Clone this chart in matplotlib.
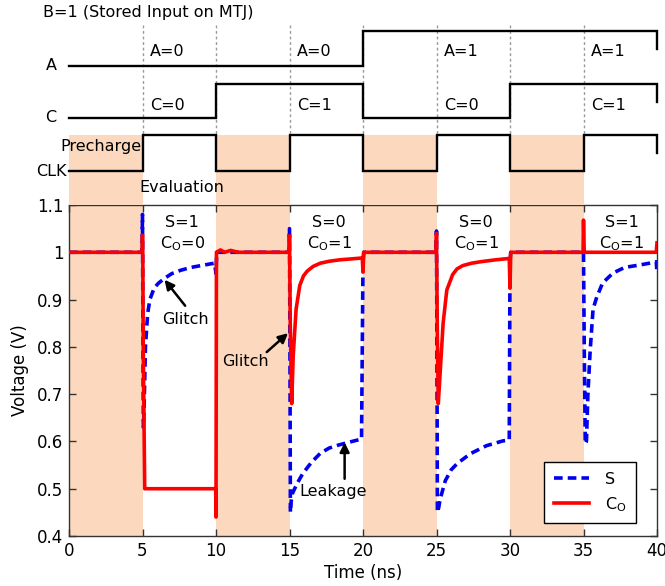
import matplotlib
matplotlib.use("Agg")
import matplotlib.pyplot as plt

# ---------------- data ----------------
seg_edges = [0, 5, 10, 15, 20, 25, 30, 35, 40]
A_levels = [0, 0, 0, 0, 1, 1, 1, 1]
C_levels = [0, 0, 1, 1, 0, 0, 1, 1]
CLK_levels = [0, 1, 0, 1, 0, 1, 0, 1]
A_labels = ["A=0", "A=0", "A=1", "A=1"]
C_labels = ["C=0", "C=1", "C=0", "C=1"]
label_starts = [5, 15, 25, 35]
precharge = [(0, 5), (10, 15), (20, 25), (30, 35)]
SC_labels = [("S=1", "0"), ("S=0", "1"), ("S=0", "1"), ("S=1", "1")]

S_t = [0, 4.97, 5.0, 5.02, 5.06, 5.1, 5.2, 5.35, 5.5, 5.8, 6.1, 6.5, 7.0, 7.6, 8.3, 9.0, 9.9,
       10.0, 10.05, 14.97, 15.0, 15.03, 15.06, 15.1, 15.2, 15.5, 15.9, 16.5, 17.1, 17.7, 18.3,
       19.0, 19.9, 20.0, 20.05, 24.97, 25.0, 25.03, 25.06, 25.15, 25.25, 25.6, 26.0, 26.4,
       27.3, 28.4, 29.5, 29.95, 30.0, 30.05, 34.97, 35.0, 35.05, 35.12, 35.2, 35.3, 35.45,
       35.65, 35.9, 36.3, 37.0, 37.8, 38.8, 39.5, 39.95, 40.0]
S_v = [1.0, 1.0, 1.08, 0.9, 0.63, 0.66, 0.8, 0.87, 0.9, 0.925, 0.935, 0.945, 0.955, 0.962,
       0.968, 0.972, 0.977, 0.955, 1.0, 1.0, 1.05, 0.8, 0.45, 0.47, 0.49, 0.51, 0.532, 0.556,
       0.575, 0.586, 0.592, 0.598, 0.605, 0.98, 1.0, 1.0, 1.045, 0.8, 0.45, 0.46, 0.478, 0.517,
       0.54, 0.553, 0.574, 0.591, 0.601, 0.603, 0.98, 1.0, 1.0, 1.0, 0.8, 0.595, 0.6, 0.7,
       0.79, 0.88, 0.905, 0.935, 0.956, 0.968, 0.973, 0.977, 0.98, 0.955]

Co_t = [0, 4.97, 5.0, 5.02, 5.05, 5.15, 9.98, 10.0, 10.03, 10.3, 10.6, 11.0, 11.5, 14.97, 15.0,
        15.05, 15.15, 15.25, 15.45, 15.7, 15.95, 16.2, 16.6, 17.1, 17.7, 18.4, 19.2, 19.95,
        20.0, 20.05, 24.97, 25.0, 25.05, 25.12, 25.2, 25.45, 25.7, 26.1, 26.4, 26.8, 27.4,
        28.0, 29.0, 29.95, 30.0, 30.05, 34.97, 35.0, 35.05, 39.95, 40.0]
Co_v = [1.0, 1.0, 1.036, 1.0, 0.8, 0.5, 0.5, 0.44, 1.0, 1.005, 1.0, 1.004, 1.0, 1.0, 1.035,
        0.85, 0.68, 0.78, 0.88, 0.93, 0.95, 0.96, 0.97, 0.977, 0.981, 0.984, 0.986, 0.988,
        0.958, 1.0, 1.0, 1.04, 0.85, 0.68, 0.72, 0.85, 0.92, 0.953, 0.965, 0.972, 0.977,
        0.98, 0.984, 0.987, 0.924, 1.0, 1.0, 1.068, 1.0, 1.0, 1.02]

x_ticks = [0, 5, 10, 15, 20, 25, 30, 35, 40]
y_ticks = [0.4, 0.5, 0.6, 0.7, 0.8, 0.9, 1.0, 1.1]
y_ticklabels = ["0.4", "0.5", "0.6", "0.7", "0.8", "0.9", "1", "1.1"]

# ---------------- style ----------------
W, H = 665, 586
SHADE = "#FCD9BE"
plt.rcParams["font.family"] = ["DejaVu Sans"]
fig = plt.figure(figsize=(W / 100, H / 100), dpi=100)

left, right = 69 / W, 657 / W
ax_top_px, ax_bot_px = 205, 536
ax = fig.add_axes([left, 1 - ax_bot_px / H, right - left, (ax_bot_px - ax_top_px) / H])
axt = fig.add_axes([left, 1 - ax_top_px / H, right - left, ax_top_px / H])

# ---- timing diagram (top) ----
axt.set_xlim(0, 40)
axt.set_ylim(ax_top_px, 0)  # pixel-like units
axt.axis("off")

def wave(levels, base, amp):
    xs, ys = [], []
    for i, lv in enumerate(levels):
        y = base - amp * lv
        xs += [seg_edges[i], seg_edges[i + 1]]
        ys += [y, y]
    # small end tick at the right edge
    xs.append(seg_edges[-1])
    ys.append(ys[-1] + 18)
    return xs, ys

for levels, base, amp in [(A_levels, 65.5, 35), (C_levels, 117.5, 34), (CLK_levels, 171, 36)]:
    xs, ys = wave(levels, base, amp)
    axt.plot(xs, ys, color="black", lw=1.7, solid_joinstyle="miter", clip_on=False)

for a, b in precharge:
    axt.axvspan(a, b, ymin=0, ymax=(ax_top_px - 135) / ax_top_px, color=SHADE, lw=0, zorder=0)

for xv in seg_edges[1:-1]:
    axt.plot([xv, xv], [25, 135], color="#999999", lw=1.0, ls=(0, (2, 2)), zorder=0.5)

fs = 11.5
axt.text(5.4, 13, "B=1 (Stored Input on MTJ)", ha="center", va="center", fontsize=fs)
axt.text(-1.2, 66, "A", ha="center", va="center", fontsize=fs, clip_on=False)
axt.text(-1.25, 118, "C", ha="center", va="center", fontsize=fs, clip_on=False)
axt.text(-0.15, 171, "CLK", ha="right", va="center", fontsize=fs, clip_on=False)
axt.text(2.14, 147, "Precharge", ha="center", va="center", fontsize=fs, clip_on=False)
axt.text(7.65, 188, "Evaluation", ha="center", va="center", fontsize=fs)
for xs0, la, lc in zip(label_starts, A_labels, C_labels):
    axt.text(xs0 + 0.5, 52, la, ha="left", va="center", fontsize=fs)
    axt.text(xs0 + 0.5, 105, lc, ha="left", va="center", fontsize=fs)

# ---- voltage plot (bottom) ----
for a, b in precharge:
    ax.axvspan(a, b, color=SHADE, lw=0, zorder=0)

ax.plot(S_t, S_v, color="#0000EE", lw=2.6, ls=(0, (2.4, 1.4)), label="S", zorder=2)
ax.plot(Co_t, Co_v, color="#FF0000", lw=2.6, label="C$_\\mathrm{O}$", zorder=3)

ax.set_xlim(0, 40)
ax.set_ylim(0.4, 1.1)
ax.set_xticks(x_ticks)
ax.set_yticks(y_ticks)
ax.set_yticklabels(y_ticklabels)
ax.tick_params(direction="in", top=True, right=True, labelsize=12, length=5, width=1,
               color="#333333", pad=4)
for sp in ax.spines.values():
    sp.set_color("#333333")
    sp.set_linewidth(1.0)
ax.set_xlabel("Time (ns)", fontsize=12, labelpad=3)
ax.set_ylabel("Voltage (V)", fontsize=12, labelpad=6)

for (xs0, (s_lab, c_val)) in zip(label_starts, SC_labels):
    xc = xs0 + 2.7 if xs0 < 35 else xs0 + 2.6
    ax.text(xc, 1.064, s_lab, ha="center", va="center", fontsize=fs)
    ax.text(xc, 1.019, "C$_\\mathrm{O}$=" + c_val, ha="center", va="center", fontsize=fs)

arrow = dict(arrowstyle="-|>", color="black", lw=1.8, mutation_scale=14, shrinkA=0, shrinkB=0)
ax.annotate("", xy=(6.5, 0.942), xytext=(7.9, 0.887), arrowprops=arrow)
ax.text(7.93, 0.858, "Glitch", ha="center", va="center", fontsize=fs)
ax.annotate("", xy=(14.9, 0.829), xytext=(13.45, 0.789), arrowprops=arrow)
ax.text(12.0, 0.769, "Glitch", ha="center", va="center", fontsize=fs)
ax.annotate("", xy=(18.75, 0.598), xytext=(18.75, 0.521), arrowprops=arrow)
ax.text(17.96, 0.495, "Leakage", ha="center", va="center", fontsize=fs)

leg = ax.legend(loc="lower right", bbox_to_anchor=(0.964, 0.039), borderaxespad=0,
                fontsize=fs, frameon=True, fancybox=False, edgecolor="black", framealpha=1,
                handlelength=2.2, borderpad=0.6, labelspacing=0.5, handletextpad=1.0)
leg.get_frame().set_linewidth(1.0)

fig.savefig("out.png", dpi=100)
